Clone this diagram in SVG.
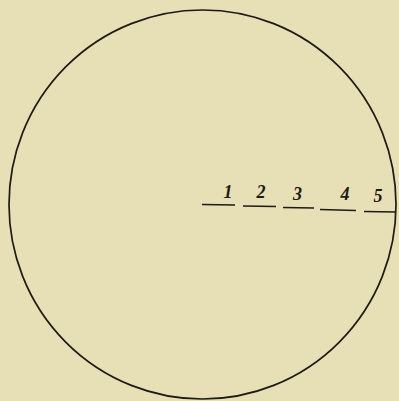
<svg xmlns="http://www.w3.org/2000/svg" width="399" height="401" viewBox="0 0 399 401">
<style>
.ln{stroke:#1e1a14;stroke-width:1.7;fill:none}
.lb{font-family:"Liberation Serif",serif;font-style:italic;font-weight:bold;font-size:18px;fill:#1e1a14;text-anchor:middle}
</style>
<rect width="399" height="401" fill="#e7e0b6"/>
<g id="circle"><ellipse class="ln" cx="202.5" cy="204.5" rx="193.5" ry="194.5"/></g>
<g id="connectors">
<line class="ln" x1="202" y1="204.5" x2="235" y2="205"/>
<line class="ln" x1="243" y1="206" x2="276" y2="206.5"/>
<line class="ln" x1="283" y1="207.5" x2="314" y2="208"/>
<line class="ln" x1="320" y1="209.5" x2="356" y2="210.5"/>
<line class="ln" x1="364" y1="211.5" x2="396" y2="212"/>
</g>
<g id="labels">
<text class="lb" x="228" y="198">1</text>
<text class="lb" x="261" y="198">2</text>
<text class="lb" x="297.5" y="200">3</text>
<text class="lb" x="345" y="200">4</text>
<text class="lb" x="378" y="202">5</text>
</g>
</svg>
